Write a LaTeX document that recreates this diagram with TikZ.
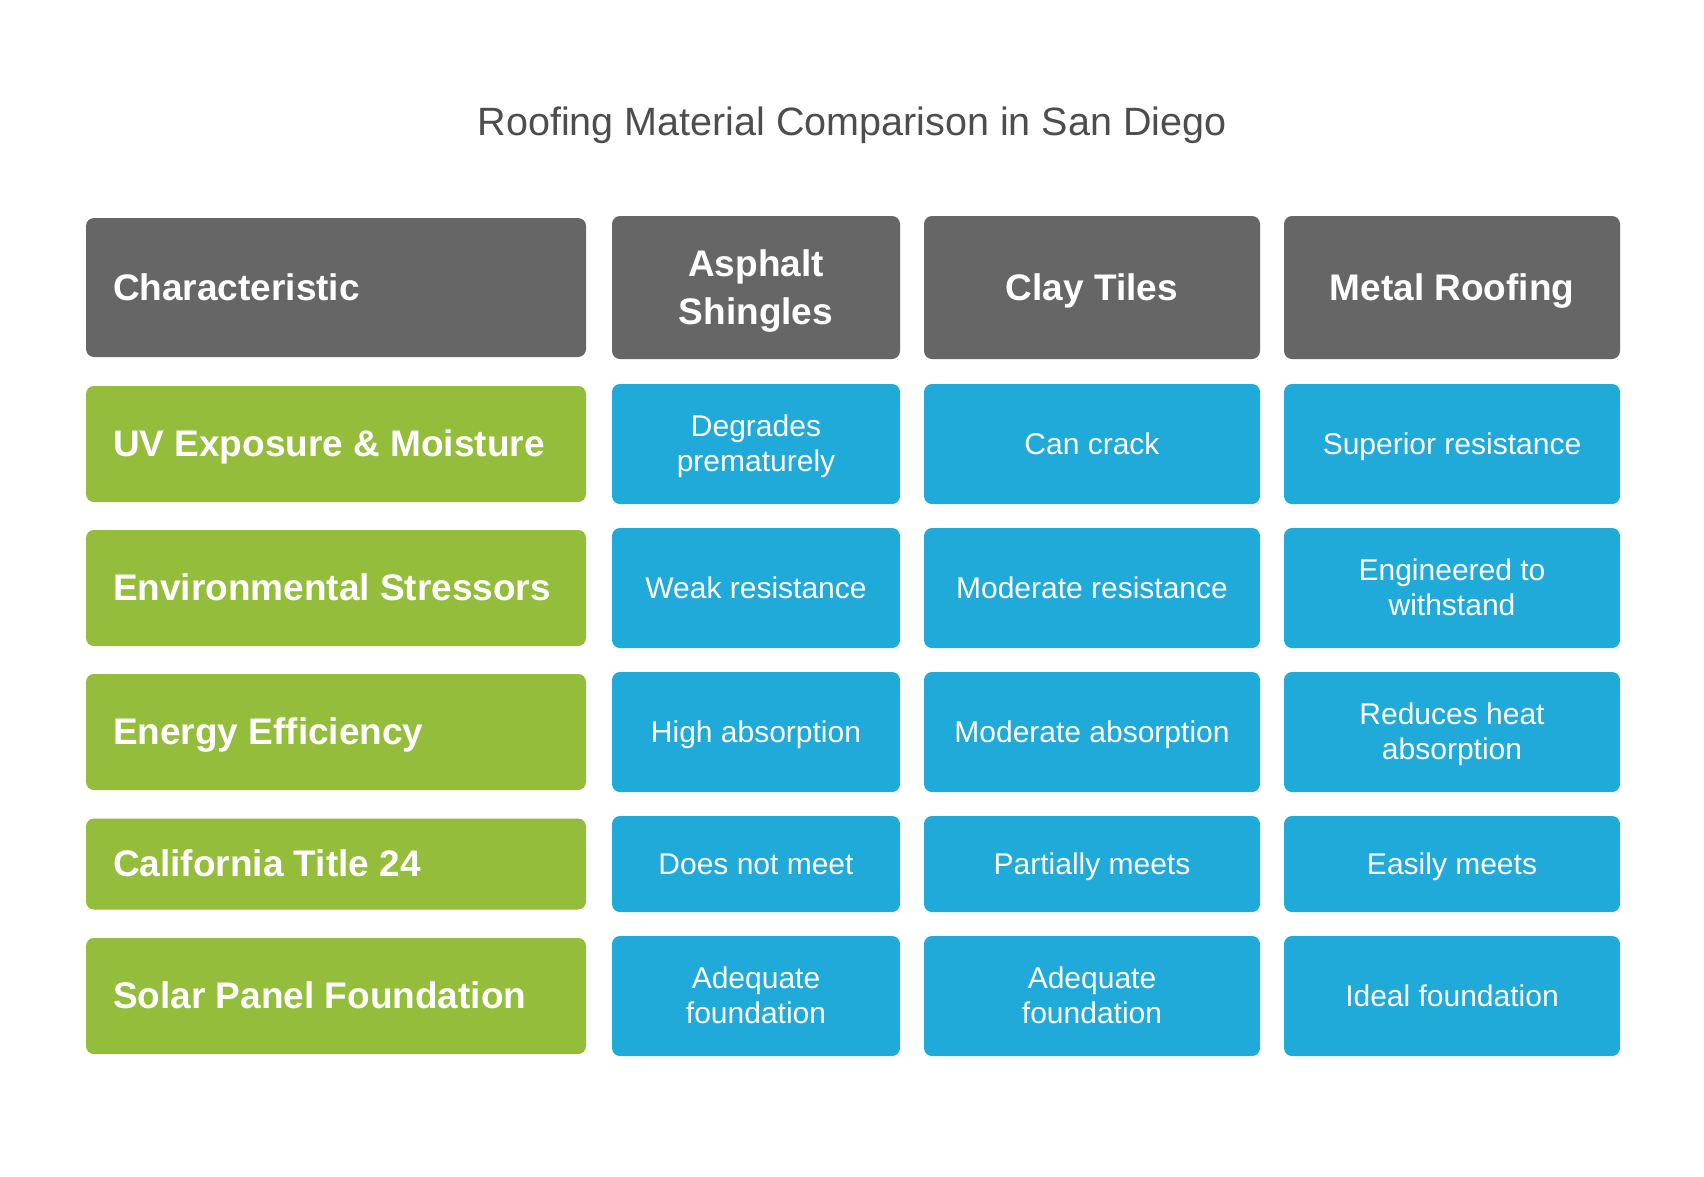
\documentclass[tikz,border=0pt]{standalone}
\usepackage{fontspec}
\setmainfont{Liberation Sans}
\definecolor{hdrgray}{HTML}{666666}
\definecolor{rowgreen}{HTML}{93BD3A}
\definecolor{cellblue}{HTML}{1FAAD9}
\definecolor{titlegray}{HTML}{4D4D4D}
\newlength\capht
\newcommand\oneline[1]{\settoheight\capht{H}\raisebox{0pt}[\capht][0pt]{#1}}
\newcommand\twolines[2]{\settoheight\capht{H}\raisebox{0pt}[\dimexpr\capht+\baselineskip\relax][0pt]{\begin{tabular}[b]{@{}c@{}}#1\\#2\end{tabular}}}
\tikzset{
  box/.style={rounded corners=8pt, inner sep=0pt, text=white, draw=none},
  hdr/.style={box, fill=hdrgray, font=\bfseries\fontsize{37}{48}\selectfont},
  rowhead/.style={box, fill=rowgreen},
  cell/.style={box, fill=cellblue, font=\fontsize{30}{35}\selectfont},
  lefttext/.style={anchor=west, inner sep=0pt, text=white, font=\bfseries\fontsize{37}{48}\selectfont},
  wA/.style={minimum width=500pt},
  wB/.style={minimum width=288pt},
  wC/.style={minimum width=336pt},
}
\begin{document}
\begin{tikzpicture}[x=1pt,y=-1pt]
\useasboundingbox[fill=white] (0,0) rectangle (1704,1176);
\node[anchor=base, inner sep=0pt, text=titlegray, font=\fontsize{39.5}{46}\selectfont] (title) at (852,135) {Roofing Material Comparison in San Diego};
% header row
\node[hdr, wA, minimum height=139pt] (h0) at (336,287.5) {};
\node[lefttext] (h0t) at ([xshift=27pt]h0.west) {\oneline{Characteristic}};
\node[hdr, wB, minimum height=143pt] (h1) at (756,287.5) {\twolines{Asphalt}{Shingles}};
\node[hdr, wC, minimum height=143pt] (h2) at (1092,287.5) {\oneline{Clay Tiles}};
\node[hdr, wC, minimum height=143pt] (h3) at (1452,287.5) {\oneline{Metal Roofing}};
% row 1
\node[rowhead, wA, minimum height=116pt] (r1) at (336,444) {};
\node[lefttext] (r1t) at ([xshift=27pt]r1.west) {\oneline{UV Exposure \& Moisture}};
\node[cell, wB, minimum height=120pt] (c11) at (756,444) {\twolines{Degrades}{prematurely}};
\node[cell, wC, minimum height=120pt] (c12) at (1092,444) {\oneline{Can crack}};
\node[cell, wC, minimum height=120pt] (c13) at (1452,444) {\oneline{Superior resistance}};
% row 2
\node[rowhead, wA, minimum height=116pt] (r2) at (336,588) {};
\node[lefttext] (r2t) at ([xshift=27pt]r2.west) {\oneline{Environmental Stressors}};
\node[cell, wB, minimum height=120pt] (c21) at (756,588) {\oneline{Weak resistance}};
\node[cell, wC, minimum height=120pt] (c22) at (1092,588) {\oneline{Moderate resistance}};
\node[cell, wC, minimum height=120pt] (c23) at (1452,588) {\twolines{Engineered to}{withstand}};
% row 3
\node[rowhead, wA, minimum height=116pt] (r3) at (336,732) {};
\node[lefttext] (r3t) at ([xshift=27pt]r3.west) {\oneline{Energy Efficiency}};
\node[cell, wB, minimum height=120pt] (c31) at (756,732) {\oneline{High absorption}};
\node[cell, wC, minimum height=120pt] (c32) at (1092,732) {\oneline{Moderate absorption}};
\node[cell, wC, minimum height=120pt] (c33) at (1452,732) {\twolines{Reduces heat}{absorption}};
% row 4
\node[rowhead, wA, minimum height=91pt] (r4) at (336,864) {};
\node[lefttext] (r4t) at ([xshift=27pt]r4.west) {\oneline{California Title 24}};
\node[cell, wB, minimum height=96pt] (c41) at (756,864) {\oneline{Does not meet}};
\node[cell, wC, minimum height=96pt] (c42) at (1092,864) {\oneline{Partially meets}};
\node[cell, wC, minimum height=96pt] (c43) at (1452,864) {\oneline{Easily meets}};
% row 5
\node[rowhead, wA, minimum height=116pt] (r5) at (336,996) {};
\node[lefttext] (r5t) at ([xshift=27pt]r5.west) {\oneline{Solar Panel Foundation}};
\node[cell, wB, minimum height=120pt] (c51) at (756,996) {\twolines{Adequate}{foundation}};
\node[cell, wC, minimum height=120pt] (c52) at (1092,996) {\twolines{Adequate}{foundation}};
\node[cell, wC, minimum height=120pt] (c53) at (1452,996) {\oneline{Ideal foundation}};
\end{tikzpicture}
\end{document}
